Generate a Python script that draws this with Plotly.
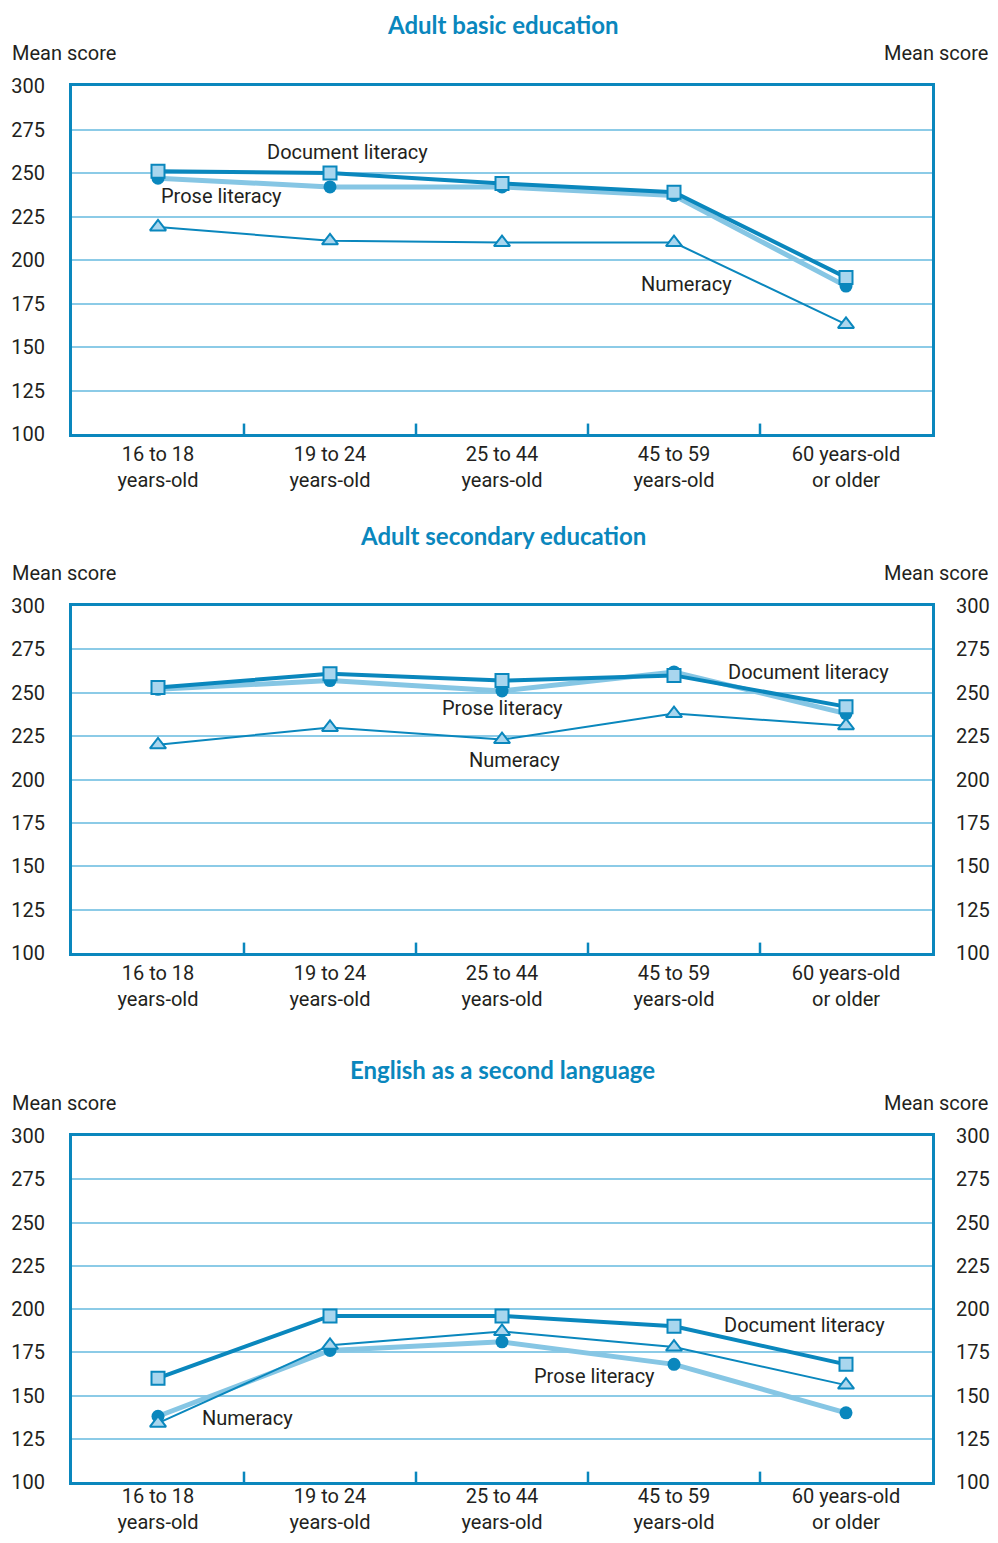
import plotly.graph_objects as go

categories = ["16 to 18<br>years-old", "19 to 24<br>years-old", "25 to 44<br>years-old",
              "45 to 59<br>years-old", "60 years-old<br>or older"]
y_ticks = [100, 125, 150, 175, 200, 225, 250, 275, 300]

panel_titles = ["Adult basic education", "Adult secondary education", "English as a second language"]

# Panel 1: Adult basic education
abe_prose = [247, 242, 242, 237, 185]
abe_document = [251, 250, 244, 239, 190]
abe_numeracy = [219, 211, 210, 210, 163]

# Panel 2: Adult secondary education
ase_prose = [252, 257, 251, 262, 238]
ase_document = [253, 261, 257, 260, 242]
ase_numeracy = [220, 230, 223, 238, 231]

# Panel 3: English as a second language
esl_prose = [138, 176, 181, 168, 140]
esl_document = [160, 196, 196, 190, 168]
esl_numeracy = [134, 179, 187, 178, 156]

panels = [
    (abe_prose, abe_document, abe_numeracy),
    (ase_prose, ase_document, ase_numeracy),
    (esl_prose, esl_document, esl_numeracy),
]

# label placement (category index, value) per panel
label_pos = [
    {"Document literacy": (1.10, 262), "Prose literacy": (0.37, 237), "Numeracy": (3.07, 186)},
    {"Document literacy": (3.78, 262), "Prose literacy": (2.00, 241), "Numeracy": (2.07, 211)},
    {"Document literacy": (3.76, 191), "Prose literacy": (2.54, 161), "Numeracy": (0.52, 137)},
]

DARK = "#0a87bd"
LIGHT = "#86c6e4"
FILL = "#a9d6ee"
GRID = "#8ccbe7"
TXT = "#231f20"
TICKFONT = dict(family="Liberation Sans Narrow, Roboto, Arial, sans-serif", size=20, color=TXT)

# page body has an 8px margin; figure sized so the page fits the window exactly
OFF = 8
W, H = 998 - 2 * OFF, 1543 - 2 * OFF
# screen-pixel extents of each plot area (top, bottom)
plot_px = [(86, 434), (606, 953), (1136, 1482)]
x_px = (72, 932)
title_px = [25, 535, 1069]
mean_px = [53, 573, 1103]
xlabel_standoff = [0, 0, -6]

fig = go.Figure()
layout = dict(width=W, height=H, margin=dict(l=0, r=0, t=0, b=0, autoexpand=False),
              paper_bgcolor="white", plot_bgcolor="white", showlegend=False)
annotations = []

xdom = [(x_px[0] - OFF) / W, (x_px[1] - OFF) / W]
for i, (prose, doc, num) in enumerate(panels):
    n = i + 1
    xa = "x" if n == 1 else f"x{n}"
    ya = "y" if n == 1 else f"y{n}"
    yr_idx = 3 + i  # right axes y4,y5,y6
    top, bot = plot_px[i]
    ydom = [1 - (bot - OFF) / H, 1 - (top - OFF) / H]

    fig.add_trace(go.Scatter(x=list(range(5)), y=prose, xaxis=xa, yaxis=ya, mode="lines+markers",
                             line=dict(color=LIGHT, width=5),
                             marker=dict(symbol="circle", size=13, color=DARK, line=dict(width=0))))
    fig.add_trace(go.Scatter(x=list(range(5)), y=num, xaxis=xa, yaxis=ya, mode="lines+markers",
                             line=dict(color=DARK, width=2),
                             marker=dict(symbol="triangle-up", size=14, color=FILL,
                                         line=dict(color=DARK, width=2))))
    fig.add_trace(go.Scatter(x=list(range(5)), y=doc, xaxis=xa, yaxis=ya, mode="lines+markers",
                             line=dict(color=DARK, width=4),
                             marker=dict(symbol="square", size=13, color=FILL,
                                         line=dict(color=DARK, width=2))))
    # invisible trace for right axis
    fig.add_trace(go.Scatter(x=[0], y=[200], xaxis=xa, yaxis=f"y{yr_idx}", mode="markers",
                             marker=dict(opacity=0), hoverinfo="skip"))

    xkey = "xaxis" if n == 1 else f"xaxis{n}"
    ykey = "yaxis" if n == 1 else f"yaxis{n}"
    layout[xkey] = dict(domain=xdom, anchor=ya, range=[-0.5, 4.5], automargin=False,
                        tickmode="array", tickvals=list(range(5)), ticktext=categories,
                        ticks="", showgrid=False, zeroline=False,
                        showline=True, linecolor=DARK, linewidth=3, mirror=True,
                        tickfont=TICKFONT, ticklabelstandoff=xlabel_standoff[i])
    layout[ykey] = dict(domain=ydom, anchor=xa, range=[100, 300], automargin=False,
                        tickmode="array", tickvals=y_ticks, ticktext=[str(v) for v in y_ticks],
                        showgrid=True, gridcolor=GRID, gridwidth=2, zeroline=False,
                        showline=True, linecolor=DARK, linewidth=3, mirror=True,
                        ticks="", tickfont=TICKFONT, ticklabelstandoff=20)
    layout[f"yaxis{yr_idx}"] = dict(domain=ydom, anchor=xa, overlaying=ya, side="right",
                                    range=[100, 300], tickmode="array", tickvals=y_ticks,
                                    automargin=False,
                                    ticktext=[str(v) for v in y_ticks], showgrid=False,
                                    zeroline=False, showline=False, ticks="",
                                    tickfont=TICKFONT, ticklabelstandoff=23)

    # inner tick marks at category boundaries
    for b in [0.5, 1.5, 2.5, 3.5]:
        fig.add_shape(type="line", xref=xa, yref=ya, x0=b, x1=b, y0=100, y1=106,
                      line=dict(color=DARK, width=2.5))

    # title
    annotations.append(dict(text=f"<b>{panel_titles[i]}</b>", xref="paper", yref="paper",
                            x=(503 - OFF) / W, y=1 - (title_px[i] - OFF) / H,
                            xanchor="center", yanchor="middle", showarrow=False,
                            font=dict(family="Lato, Open Sans, sans-serif", size=24, color="#0a87bd")))
    annotations.append(dict(text="Mean score", xref="paper", yref="paper",
                            x=(13 - OFF - 3) / W, y=1 - (mean_px[i] - OFF) / H,
                            xanchor="left", yanchor="middle", showarrow=False, font=TICKFONT))
    annotations.append(dict(text="Mean score", xref="paper", yref="paper",
                            x=1.0, y=1 - (mean_px[i] - OFF) / H,
                            xanchor="right", yanchor="middle", showarrow=False, font=TICKFONT))
    for name, (lx, ly) in label_pos[i].items():
        annotations.append(dict(text=name, xref=xa, yref=ya, x=lx, y=ly,
                                xanchor="center", yanchor="middle", showarrow=False,
                                font=TICKFONT))

layout["annotations"] = annotations
fig.update_layout(**layout)
fig.write_html("out.html")
